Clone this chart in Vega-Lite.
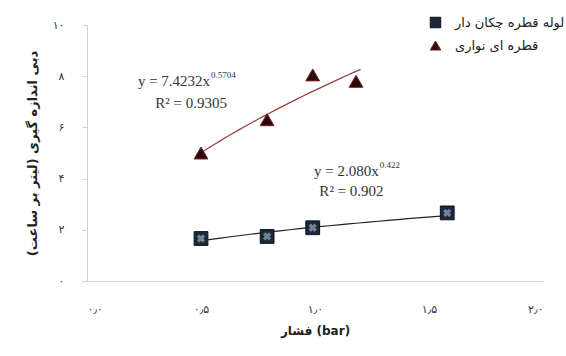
{
  "$schema": "https://vega.github.io/schema/vega-lite/v6.json",
  "width": 456,
  "height": 256,
  "autosize": "none",
  "padding": {"left": 87, "top": 25, "right": 23, "bottom": 75},
  "background": "white",
  "config": {"view": {"stroke": null}},
  "datasets": {
    "pts": [
      {"x": 0.5, "y": 1.66, "series": "لوله قطره چکان دار"},
      {"x": 0.79, "y": 1.74, "series": "لوله قطره چکان دار"},
      {"x": 0.99, "y": 2.08, "series": "لوله قطره چکان دار"},
      {"x": 1.58, "y": 2.66, "series": "لوله قطره چکان دار"},
      {"x": 0.5, "y": 5.0, "series": "قطره ای نواری"},
      {"x": 0.79, "y": 6.3, "series": "قطره ای نواری"},
      {"x": 0.99, "y": 8.05, "series": "قطره ای نواری"},
      {"x": 1.18, "y": 7.8, "series": "قطره ای نواری"}
    ],
    "eq": [
      {"x": 0.54, "y": 7.8, "t": "y = 7.4232x", "e": "0.5704", "r": "R² = 0.9305", "ry": 6.97, "rx": 0.457},
      {"x": 1.28, "y": 4.3, "t": "y = 2.080x", "e": "0.422", "r": "R² = 0.902", "ry": 3.52, "rx": 1.16}
    ]
  },
  "layer": [
    {
      "data": {"name": "pts"},
      "transform": [
        {"filter": "datum.series == 'قطره ای نواری'"},
        {"regression": "y", "on": "x", "method": "pow", "extent": [0.5, 1.2]}
      ],
      "mark": {"type": "line", "color": "#9c4040", "strokeWidth": 1.3},
      "encoding": {
        "x": {"field": "x", "type": "quantitative"},
        "y": {"field": "y", "type": "quantitative"}
      }
    },
    {
      "data": {"name": "pts"},
      "transform": [
        {"filter": "datum.series == 'لوله قطره چکان دار'"},
        {"regression": "y", "on": "x", "method": "pow", "extent": [0.5, 1.58]}
      ],
      "mark": {"type": "line", "color": "#222222", "strokeWidth": 1.2},
      "encoding": {
        "x": {"field": "x", "type": "quantitative"},
        "y": {"field": "y", "type": "quantitative"}
      }
    },
    {
      "data": {"name": "pts"},
      "mark": {"type": "point", "filled": true, "opacity": 1, "strokeWidth": 1},
      "encoding": {
        "x": {
          "field": "x", "type": "quantitative",
          "scale": {"domain": [0, 2], "nice": false},
          "axis": {
            "values": [0, 0.5, 1, 1.5, 2],
            "labelExpr": "datum.value == 0 ? '۰٫۰' : datum.value == 0.5 ? '۰٫۵' : datum.value == 1 ? '۱٫۰' : datum.value == 1.5 ? '۱٫۵' : '۲٫۰'",
            "grid": false,
            "domainColor": "#d0d0d0",
            "tickColor": "#d0d0d0",
            "tickSize": 0,
            "labelPadding": 22,
            "labelFont": "DejaVu Sans",
            "labelFontSize": 11,
            "labelColor": "#333333",
            "title": "فشار (bar)",
            "titleFont": "DejaVu Sans",
            "titleFontSize": 12,
            "titleFontWeight": "bold",
            "titleColor": "#222222",
            "titlePadding": 11
          }
        },
        "y": {
          "field": "y", "type": "quantitative",
          "scale": {"domain": [0, 10], "nice": false},
          "axis": {
            "values": [0, 2, 4, 6, 8, 10],
            "labelExpr": "datum.value == 0 ? '۰' : datum.value == 2 ? '۲' : datum.value == 4 ? '۴' : datum.value == 6 ? '۶' : datum.value == 8 ? '۸' : '۱۰'",
            "grid": false,
            "domainColor": "#d0d0d0",
            "tickColor": "#d0d0d0",
            "tickSize": 5,
            "labelPadding": 18,
            "labelFont": "DejaVu Sans",
            "labelFontSize": 11,
            "labelColor": "#333333",
            "title": "دبی اندازه گیری (لیتر بر ساعت)",
            "titleFont": "DejaVu Sans",
            "titleFontSize": 13,
            "titleFontWeight": "bold",
            "titleColor": "#222222",
            "titlePadding": 13
          }
        },
        "shape": {
          "field": "series", "type": "nominal",
          "scale": {"domain": ["لوله قطره چکان دار", "قطره ای نواری"], "range": ["square", "triangle-up"]},
          "legend": {
            "orient": "none", "legendX": 342, "legendY": -9,
            "title": null,
            "labelFont": "DejaVu Sans", "labelFontSize": 13, "labelColor": "#222222",
            "symbolSize": 110, "rowPadding": 8, "labelOffset": 13,
            "symbolStrokeWidth": 1
          }
        },
        "color": {
          "field": "series", "type": "nominal",
          "scale": {"domain": ["لوله قطره چکان دار", "قطره ای نواری"], "range": ["#1c2836", "#2a0a0a"]}
        },
        "stroke": {
          "field": "series", "type": "nominal",
          "scale": {"domain": ["لوله قطره چکان دار", "قطره ای نواری"], "range": ["#0d1520", "#7a2020"]}
        },
        "size": {"value": 190}
      }
    },
    {
      "data": {"name": "pts"},
      "transform": [{"filter": "datum.series == 'لوله قطره چکان دار'"}],
      "mark": {"type": "point", "shape": "cross", "angle": 45, "filled": true, "color": "#6f8596", "size": 70, "opacity": 1},
      "encoding": {
        "x": {"field": "x", "type": "quantitative"},
        "y": {"field": "y", "type": "quantitative"}
      }
    },
    {
      "data": {"name": "eq"},
      "mark": {"type": "text", "font": "Liberation Serif", "fontSize": 15, "align": "right", "color": "#333333"},
      "encoding": {
        "x": {"field": "x", "type": "quantitative"},
        "y": {"field": "y", "type": "quantitative"},
        "text": {"field": "t"}
      }
    },
    {
      "data": {"name": "eq"},
      "mark": {"type": "text", "font": "Liberation Serif", "fontSize": 9, "align": "left", "dx": 1, "dy": -6, "color": "#333333"},
      "encoding": {
        "x": {"field": "x", "type": "quantitative"},
        "y": {"field": "y", "type": "quantitative"},
        "text": {"field": "e"}
      }
    },
    {
      "data": {"name": "eq"},
      "mark": {"type": "text", "font": "Liberation Serif", "fontSize": 15, "align": "center", "color": "#333333"},
      "encoding": {
        "x": {"field": "rx", "type": "quantitative"},
        "y": {"field": "ry", "type": "quantitative"},
        "text": {"field": "r"}
      }
    }
  ]
}
